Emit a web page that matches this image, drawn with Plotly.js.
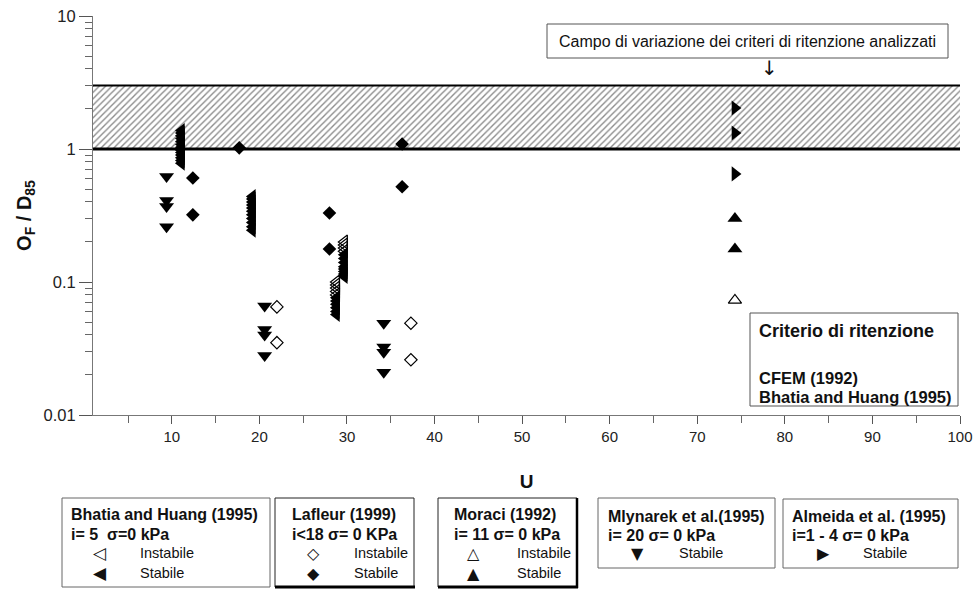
<!DOCTYPE html>
<html>
<head>
<meta charset="utf-8">
<script src="https://cdn.plot.ly/plotly-3.0.1.min.js"></script>
<style>html,body{margin:0;padding:0;background:#fff;}#chart{width:974px;height:590px;}</style>
</head>
<body>
<div id="chart"></div>
<script>
// ---------------- DATA (U, OF/D85) ----------------
// Band of the retention criteria (CFEM 1992, Bhatia and Huang 1995)
const bandU = [1, 100];
const bandLow = [1, 1];
const bandHigh = [3, 3];

// Bhatia and Huang (1995) - Stabile (filled left triangles)
const bhatiaStabileU = [
  11.1, 11.1, 11.1, 11.1, 11.1, 11.1, 11.1, 11.1, 11.1, 11.1, 11.1, 11.1, 11.1,
  19.2, 19.2, 19.2, 19.2, 19.2, 19.2, 19.2, 19.2, 19.2, 19.2, 19.2,
  29.7, 29.7, 29.7, 29.7, 29.7, 29.7, 29.7, 29.7,
  28.8, 28.8, 28.8, 28.8, 28.8, 28.8
];
const bhatiaStabileRatio = [
  1.38, 1.32, 1.26, 1.20, 1.14, 1.08, 1.03, 0.98, 0.94, 0.90, 0.86, 0.82, 0.78,
  0.44, 0.42, 0.40, 0.38, 0.36, 0.34, 0.32, 0.30, 0.28, 0.26, 0.245,
  0.16, 0.15, 0.14, 0.13, 0.125, 0.12, 0.115, 0.11,
  0.076, 0.072, 0.068, 0.064, 0.060, 0.057
];
// Bhatia and Huang (1995) - Instabile (open left triangles)
const bhatiaInstabileU = [29.7, 29.7, 29.7, 29.7, 28.8, 28.8, 28.8, 28.8, 28.8];
const bhatiaInstabileRatio = [0.20, 0.19, 0.18, 0.17, 0.100, 0.095, 0.090, 0.085, 0.080];

// Lafleur (1999)
const lafleurStabileU = [12.4, 12.4, 17.7, 28.0, 28.0, 36.3, 36.3];
const lafleurStabileRatio = [0.605, 0.32, 1.02, 0.33, 0.177, 1.09, 0.52];
const lafleurInstabileU = [22.0, 22.0, 37.3, 37.3];
const lafleurInstabileRatio = [0.065, 0.035, 0.049, 0.026];

// Moraci (1992)
const moraciStabileU = [74.3, 74.3];
const moraciStabileRatio = [0.30, 0.177];
const moraciInstabileU = [74.3];
const moraciInstabileRatio = [0.073];

// Mlynarek et al. (1995) - Stabile
const mlynarekU = [9.4, 9.4, 9.4, 9.4, 20.6, 20.6, 20.6, 20.6, 34.2, 34.2, 34.2, 34.2];
const mlynarekRatio = [0.62, 0.41, 0.37, 0.26, 0.066, 0.044, 0.040, 0.028, 0.049, 0.0325, 0.0296, 0.021];

// Almeida et al. (1995) - Stabile
const almeidaU = [74.3, 74.3, 74.3];
const almeidaRatio = [2.03, 1.32, 0.65];

// Axis ticks
const yTickVals = [0.01, 0.1, 1, 10];
const yTickText = ['0.01', '0.1', '1', '10'];
const yMinorTicks = [0.02,0.03,0.04,0.05,0.06,0.07,0.08,0.09,0.2,0.3,0.4,0.5,0.6,0.7,0.8,0.9,2,3,4,5,6,7,8,9];

// ---------------- LAYOUT HELPERS ----------------
const L = 93, R = 960, T = 16, B = 415;
const px = x => (x - L) / (R - L);
const py = y => (B - y) / (B - T);
const FONT = 'Liberation Sans, Arial, sans-serif';
const SYM = 'DejaVu Sans, sans-serif';

function mk(sym, size, open) {
  return open
    ? {symbol: sym + '-open', size: size, color: '#000', line: {color: '#000', width: 1.2}}
    : {symbol: sym, size: size, color: '#000', line: {width: 0}};
}

const traces = [
  {x: bandU, y: bandLow, mode: 'lines', line: {color: '#000', width: 3}, hoverinfo: 'skip', showlegend: false},
  {x: bandU, y: bandHigh, mode: 'lines', line: {color: '#000', width: 2}, fill: 'tonexty',
   fillcolor: 'rgba(255,255,255,1)',
   fillpattern: {shape: '/', fgcolor: '#8a8a8a', bgcolor: '#fff', size: 4.5, solidity: 0.3},
   hoverinfo: 'skip', showlegend: false},
  {x: bhatiaStabileU, y: bhatiaStabileRatio, mode: 'markers', marker: mk('triangle-left', 13, false), showlegend: false},
  {x: bhatiaInstabileU, y: bhatiaInstabileRatio, mode: 'markers', marker: mk('triangle-left', 12, true), showlegend: false},
  {x: lafleurStabileU, y: lafleurStabileRatio, mode: 'markers', marker: mk('diamond', 10.5, false), showlegend: false},
  {x: lafleurInstabileU, y: lafleurInstabileRatio, mode: 'markers', marker: mk('diamond', 9.5, true), showlegend: false},
  {x: moraciStabileU, y: moraciStabileRatio, mode: 'markers', marker: mk('triangle-up', 13, false), showlegend: false},
  {x: moraciInstabileU, y: moraciInstabileRatio, mode: 'markers', marker: mk('triangle-up', 11.5, true), showlegend: false},
  {x: mlynarekU, y: mlynarekRatio, mode: 'markers', marker: mk('triangle-down', 13, false), showlegend: false},
  {x: almeidaU, y: almeidaRatio, mode: 'markers', marker: mk('triangle-right', 13, false), showlegend: false}
];

// ---------------- ANNOTATIONS / BOXES ----------------
const shapes = [];
const annotations = [];
function box(x0, y0, x1, y1, color, w) {
  shapes.push({type: 'rect', xref: 'paper', yref: 'paper', x0: px(x0), x1: px(x1), y0: py(y1), y1: py(y0),
               line: {color: color, width: w || 1}, fillcolor: 'rgba(255,255,255,1)', layer: 'above'});
}
function hline(x0, x1, y, w) {
  shapes.push({type: 'line', xref: 'paper', yref: 'paper', x0: px(x0), x1: px(x1), y0: py(y), y1: py(y),
               line: {color: '#000', width: w}, layer: 'above'});
}
function vline(x, y0, y1, w) {
  shapes.push({type: 'line', xref: 'paper', yref: 'paper', x0: px(x), x1: px(x), y0: py(y0), y1: py(y1),
               line: {color: '#000', width: w}, layer: 'above'});
}
function txt(x, y, text, size, bold, family, anchor) {
  annotations.push({xref: 'paper', yref: 'paper', x: px(x), y: py(y), text: bold ? '<b>' + text + '</b>' : text,
                    showarrow: false, xanchor: anchor || 'left', yanchor: 'middle',
                    font: {family: family || FONT, size: size, color: '#111'}});
}

// Top note
box(547, 24, 948, 58, '#555', 1);
txt(747.5, 41, 'Campo di variazione dei criteri di ritenzione analizzati', 16, false, FONT, 'center');
txt(769, 68, '↓', 20, false, SYM, 'center');

// Criterion box
box(750, 313, 958, 406, '#555', 1);
txt(757, 331, 'Criterio di ritenzione', 18, true);
txt(757, 378, 'CFEM (1992)', 16.5, true);
txt(757, 397, 'Bhatia and Huang (1995)', 16.5, true);

// Legend boxes
box(62, 498, 270, 587, '#666', 1);
txt(69, 514, 'Bhatia and Huang (1995)', 16, true);
txt(69, 534, 'i= 5  σ=0 kPa', 16, true);
txt(100, 553, '◁', 17, false, SYM, 'center');
txt(138, 553, 'Instabile', 14.5);
txt(100, 573, '◀', 17, false, SYM, 'center');
txt(138, 573, 'Stabile', 14.5);

box(275, 498, 414, 587, '#222', 1);
hline(275, 415, 587, 3);
txt(290, 514, 'Lafleur (1999)', 16, true);
txt(290, 534, 'i<18 σ= 0 KPa', 16, true);
txt(313, 553, '◇', 16, false, SYM, 'center');
txt(352, 553, 'Instabile', 14.5);
txt(313, 573, '◆', 16, false, SYM, 'center');
txt(352, 573, 'Stabile', 14.5);

box(438, 498, 577, 587, '#222', 1);
hline(438, 578, 587, 3);
vline(577, 498, 588, 2.5);
txt(452, 514, 'Moraci (1992)', 16, true);
txt(452, 534, 'i= 11 σ= 0 kPa', 16, true);
txt(473, 553, '△', 16, false, SYM, 'center');
txt(515, 553, 'Instabile', 14.5);
txt(473, 573, '▲', 16, false, SYM, 'center');
txt(515, 573, 'Stabile', 14.5);

box(598, 498, 775, 568, '#666', 1);
txt(606, 516, 'Mlynarek et al.(1995)', 16, true);
txt(606, 535, 'i= 20 σ= 0 kPa', 16, true);
txt(637, 553, '▼', 16, false, SYM, 'center');
txt(677, 553, 'Stabile', 14.5);

box(783, 499, 958, 568, '#666', 1);
txt(790, 516, 'Almeida et al. (1995)', 16, true);
txt(790, 535, 'i=1 - 4 σ= 0 kPa', 16, true);
txt(823, 553, '▶', 16, false, SYM, 'center');
txt(861, 553, 'Stabile', 14.5);

const layout = {
  width: 974, height: 590,
  margin: {l: L, r: 974 - R, t: T, b: 590 - B, pad: 0},
  paper_bgcolor: '#fff', plot_bgcolor: '#fff',
  font: {family: FONT, color: '#111'},
  showlegend: false,
  xaxis: {
    range: [1, 100], tick0: 0, dtick: 10, ticks: 'outside', ticklen: 8, tickwidth: 1, tickcolor: '#555',
    showline: true, linecolor: '#777', linewidth: 1, showgrid: false, zeroline: false,
    minor: {dtick: 5, tick0: 0, ticks: 'outside', ticklen: 7, tickcolor: '#666', showgrid: false},
    tickfont: {family: FONT, size: 15, color: '#222'},
    title: {text: '<b>U</b>', font: {family: FONT, size: 19, color: '#111'}, standoff: 30},
    automargin: false
  },
  yaxis: {
    type: 'log', range: [-2, 1], tickmode: 'array', tickvals: yTickVals, ticktext: yTickText,
    ticks: 'outside', ticklen: 13, tickwidth: 1, tickcolor: '#555',
    showline: true, linecolor: '#777', linewidth: 1, showgrid: false, zeroline: false,
    minor: {tickmode: 'array', tickvals: yMinorTicks, ticks: 'outside', ticklen: 7, tickcolor: '#666', showgrid: false},
    tickfont: {family: FONT, size: 16.5, color: '#222'},
    title: {text: '<b>O<sub>F</sub> / D<sub>85</sub></b>', font: {family: FONT, size: 20, color: '#111'}, standoff: 6},
    automargin: false
  },
  shapes: shapes,
  annotations: annotations
};

Plotly.newPlot('chart', traces, layout, {displayModeBar: false, staticPlot: true});
</script>
</body>
</html>
